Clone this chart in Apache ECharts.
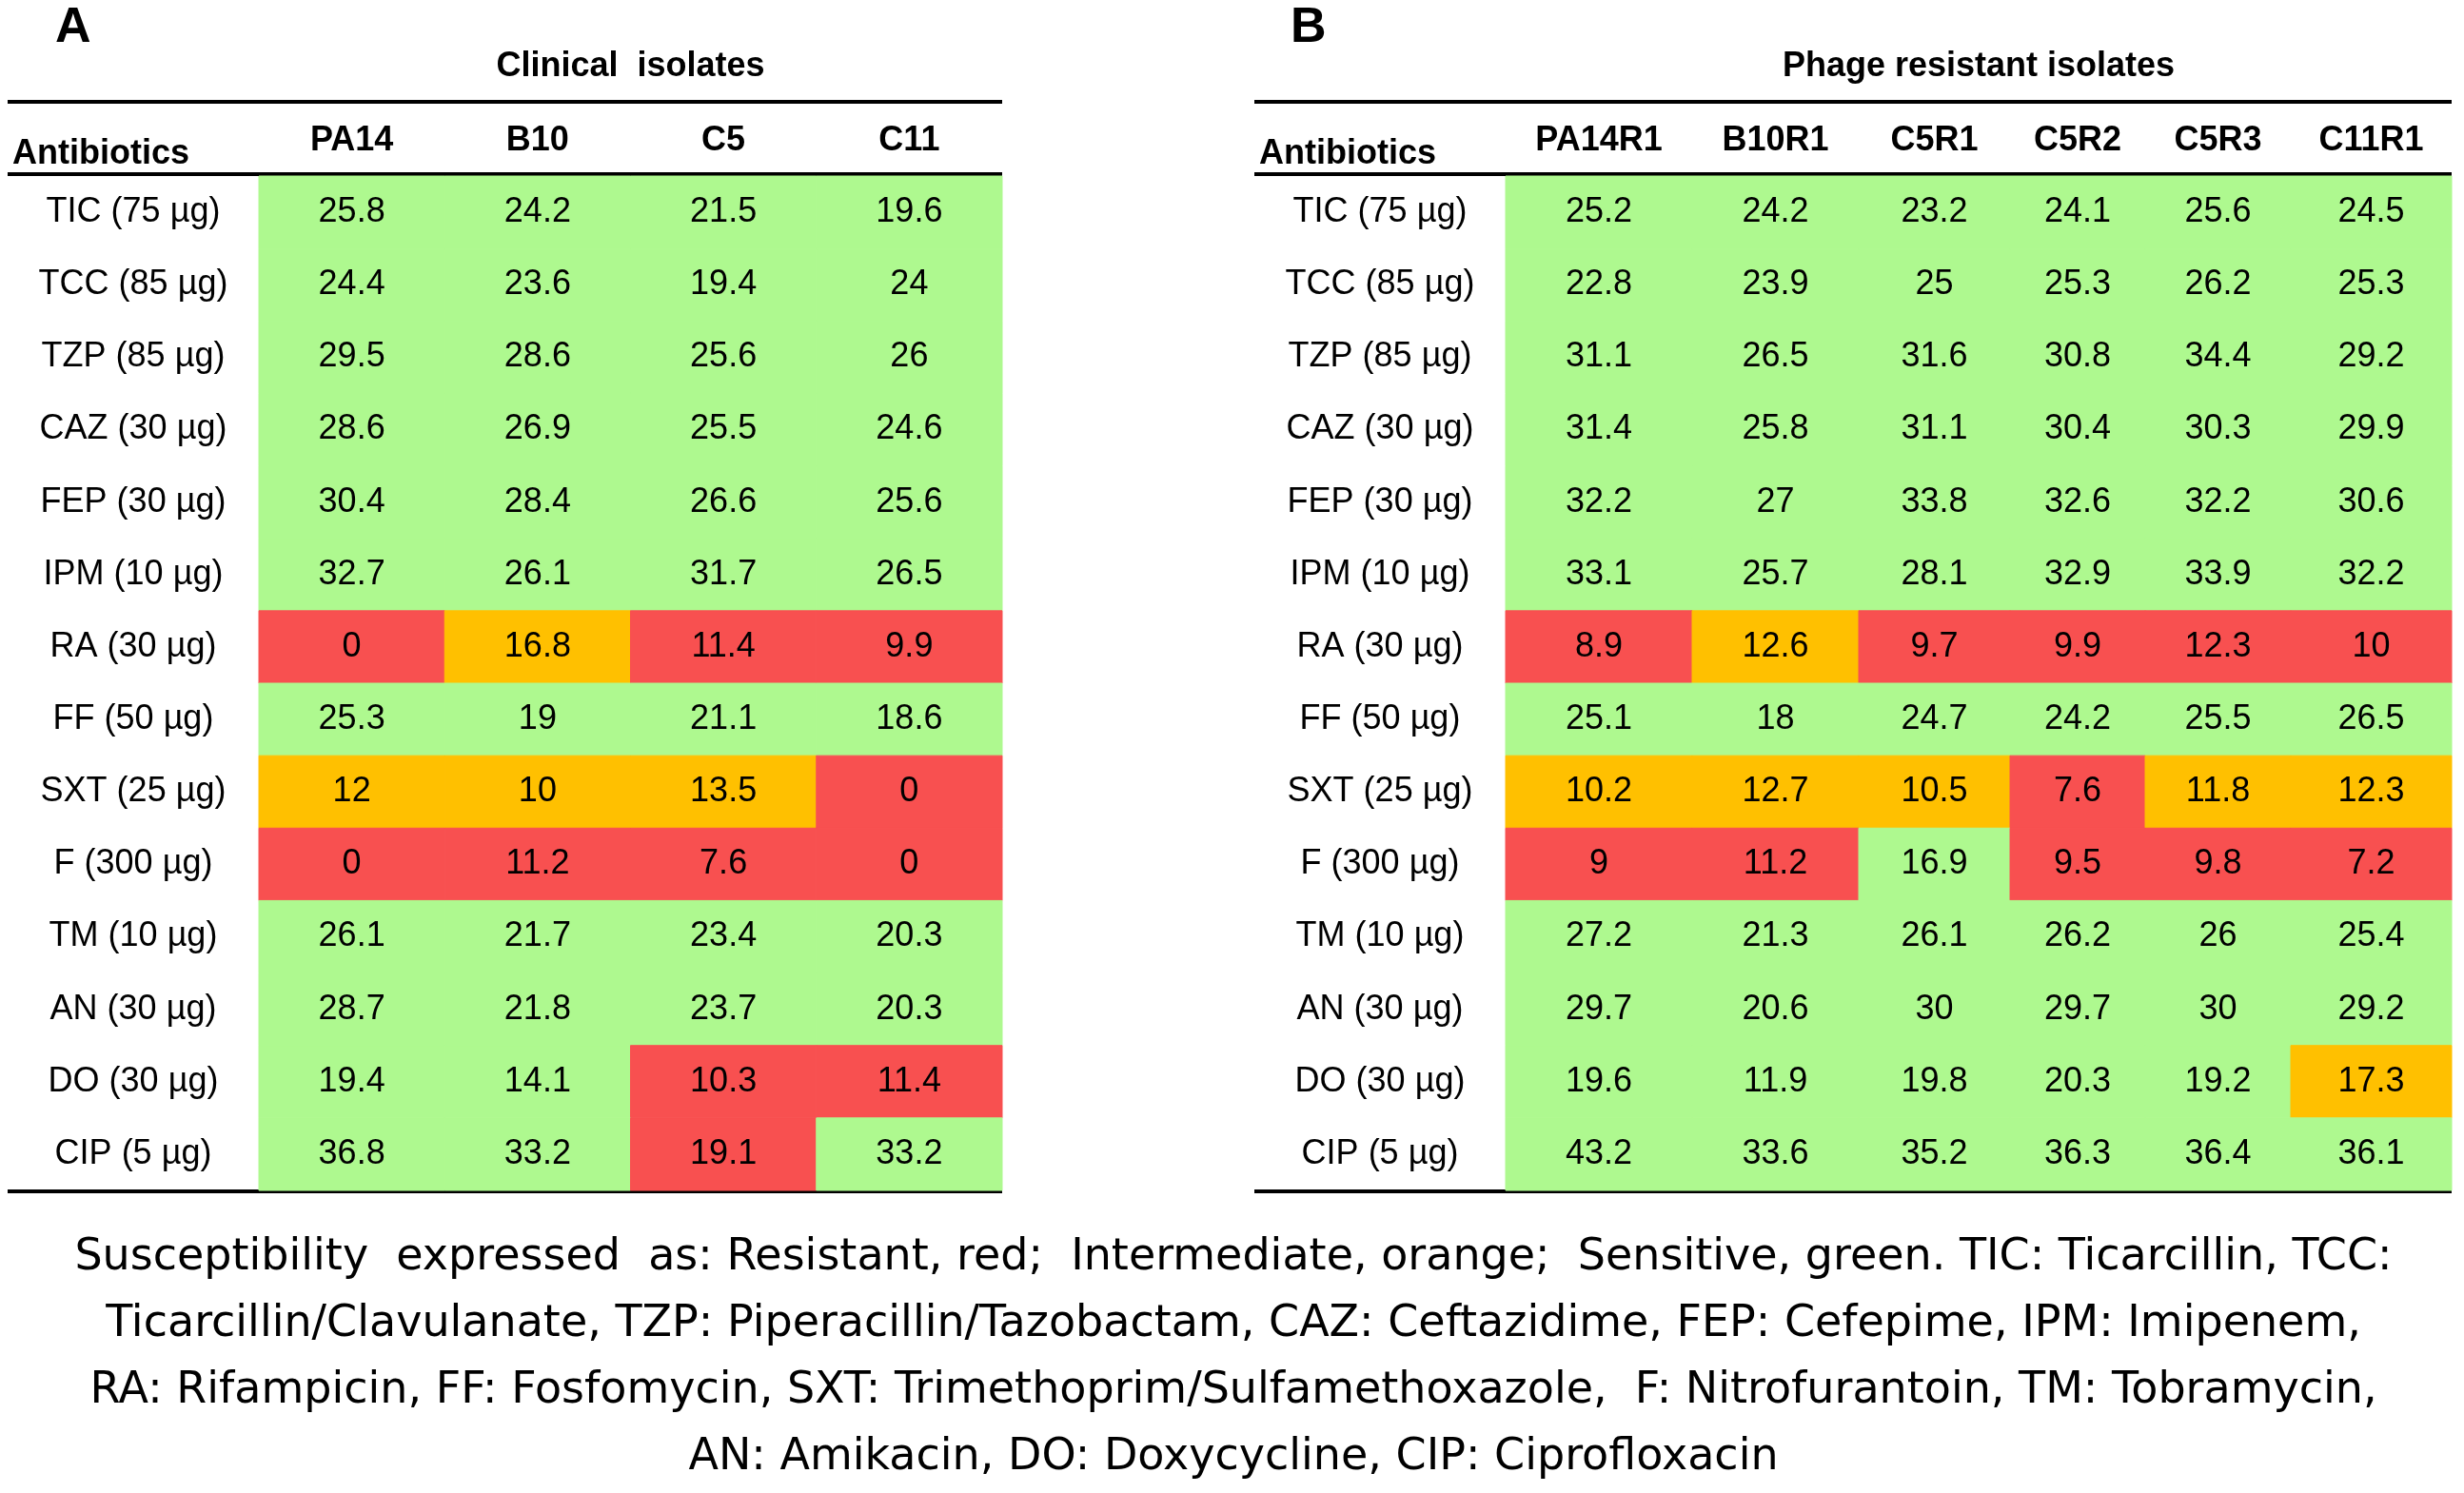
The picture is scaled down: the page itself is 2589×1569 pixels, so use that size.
<!DOCTYPE html>
<html>
<head>
<meta charset="utf-8">
<title>Antibiotic susceptibility</title>
<script src="https://cdn.jsdelivr.net/npm/echarts@6/dist/echarts.min.js"></script>
<style>
  html, body { margin: 0; padding: 0; background: #fff; }
  #main { width: 2589px; height: 1569px; }
</style>
</head>
<body>
<div id="main"></div>
<script>
// 药敏表：A 临床分离株, B 噬菌体抗性分离株
const antibiotics = [
  'TIC (75 µg)', 'TCC (85 µg)', 'TZP (85 µg)', 'CAZ (30 µg)', 'FEP (30 µg)',
  'IPM (10 µg)', 'RA (30 µg)', 'FF (50 µg)', 'SXT (25 µg)', 'F (300 µg)',
  'TM (10 µg)', 'AN (30 µg)', 'DO (30 µg)', 'CIP (5 µg)'
];

const clinicalIsolates = ['PA14', 'B10', 'C5', 'C11'];
const clinicalValues = [
  [25.8, 24.2, 21.5, 19.6],
  [24.4, 23.6, 19.4, 24],
  [29.5, 28.6, 25.6, 26],
  [28.6, 26.9, 25.5, 24.6],
  [30.4, 28.4, 26.6, 25.6],
  [32.7, 26.1, 31.7, 26.5],
  [0, 16.8, 11.4, 9.9],
  [25.3, 19, 21.1, 18.6],
  [12, 10, 13.5, 0],
  [0, 11.2, 7.6, 0],
  [26.1, 21.7, 23.4, 20.3],
  [28.7, 21.8, 23.7, 20.3],
  [19.4, 14.1, 10.3, 11.4],
  [36.8, 33.2, 19.1, 33.2]
];
// S = sensitive, I = intermediate, R = resistant
const clinicalStatus = [
  'SSSS', 'SSSS', 'SSSS', 'SSSS', 'SSSS', 'SSSS', 'RIRR',
  'SSSS', 'IIIR', 'RRRR', 'SSSS', 'SSSS', 'SSRR', 'SSRS'
];

const phageIsolates = ['PA14R1', 'B10R1', 'C5R1', 'C5R2', 'C5R3', 'C11R1'];
const phageValues = [
  [25.2, 24.2, 23.2, 24.1, 25.6, 24.5],
  [22.8, 23.9, 25, 25.3, 26.2, 25.3],
  [31.1, 26.5, 31.6, 30.8, 34.4, 29.2],
  [31.4, 25.8, 31.1, 30.4, 30.3, 29.9],
  [32.2, 27, 33.8, 32.6, 32.2, 30.6],
  [33.1, 25.7, 28.1, 32.9, 33.9, 32.2],
  [8.9, 12.6, 9.7, 9.9, 12.3, 10],
  [25.1, 18, 24.7, 24.2, 25.5, 26.5],
  [10.2, 12.7, 10.5, 7.6, 11.8, 12.3],
  [9, 11.2, 16.9, 9.5, 9.8, 7.2],
  [27.2, 21.3, 26.1, 26.2, 26, 25.4],
  [29.7, 20.6, 30, 29.7, 30, 29.2],
  [19.6, 11.9, 19.8, 20.3, 19.2, 17.3],
  [43.2, 33.6, 35.2, 36.3, 36.4, 36.1]
];
const phageStatus = [
  'SSSSSS', 'SSSSSS', 'SSSSSS', 'SSSSSS', 'SSSSSS', 'SSSSSS', 'RIRRRR',
  'SSSSSS', 'IIIRII', 'RRSRRR', 'SSSSSS', 'SSSSSS', 'SSSSSI', 'SSSSSS'
];

const caption =
  'Susceptibility  expressed  as: Resistant, red;  Intermediate, orange;  Sensitive, green. TIC: Ticarcillin, TCC:\n' +
  'Ticarcillin/Clavulanate, TZP: Piperacillin/Tazobactam, CAZ: Ceftazidime, FEP: Cefepime, IPM: Imipenem,\n' +
  'RA: Rifampicin, FF: Fosfomycin, SXT: Trimethoprim/Sulfamethoxazole,  F: Nitrofurantoin, TM: Tobramycin,\n' +
  'AN: Amikacin, DO: Doxycycline, CIP: Ciprofloxacin';

// 布局
const FONT = '"Liberation Sans", Arial, sans-serif';
const CAPTION_FONT = '"DejaVu Sans", "Liberation Sans", sans-serif';
const COLORS = { S: '#AEF98F', I: '#FFC000', R: '#F85050' };
const TOP_RULE = 107;
const HEAD_RULE = 183;
const BODY_TOP = 185;
const BODY_BOTTOM = 1251;
const FOOT_RULE = 1252;
const LABEL_W = 264;

const layoutA = { left: 8, colW: [195.25, 195.25, 195.25, 195.25] };
const layoutB = { left: 1318, colW: [196, 175, 159, 142, 153, 169] };

function makeTable(idx, layout, names, values, status) {
  const edges = [0];
  layout.colW.forEach(w => edges.push(edges[edges.length - 1] + w));
  const total = edges[edges.length - 1];
  const centers = layout.colW.map((w, i) => edges[i] + w / 2);
  const dataLeft = layout.left + LABEL_W;

  const items = [];
  values.forEach((row, r) => {
    row.forEach((v, c) => {
      items.push({ value: [c, r, v], status: status[r][c] });
    });
  });

  return {
    grid: {
      left: dataLeft,
      top: BODY_TOP,
      width: total,
      height: BODY_BOTTOM - BODY_TOP
    },
    xAxis: {
      gridIndex: idx,
      type: 'value',
      min: 0,
      max: total,
      position: 'top',
      axisLine: { show: false },
      axisTick: { show: false },
      splitLine: { show: false },
      axisLabel: {
        customValues: centers,
        formatter: v => {
          const i = centers.findIndex(c => Math.abs(c - v) < 0.5);
          return i >= 0 ? names[i] : '';
        },
        margin: 37,
        verticalAlign: 'middle',
        fontFamily: FONT,
        fontSize: 36,
        fontWeight: 'bold',
        color: '#000'
      }
    },
    yAxis: {
      gridIndex: idx,
      type: 'category',
      data: antibiotics,
      inverse: true,
      axisLine: { show: false },
      axisTick: { show: false },
      splitLine: { show: false },
      axisLabel: {
        margin: LABEL_W / 2,
        align: 'center',
        fontFamily: FONT,
        fontSize: 36,
        color: '#000'
      }
    },
    series: {
      type: 'custom',
      xAxisIndex: idx,
      yAxisIndex: idx,
      encode: { x: 0, y: 1 },
      data: items.map(d => d.value),
      renderItem: function (params, api) {
        const c = api.value(0);
        const r = api.value(1);
        const p0 = api.coord([edges[c], r]);
        const p1 = api.coord([edges[c + 1], r]);
        const h = api.size([0, 1])[1];
        const color = COLORS[items[params.dataIndex].status];
        return {
          type: 'rect',
          shape: { x: p0[0], y: p0[1] - h / 2, width: p1[0] - p0[0], height: h },
          style: { fill: color, stroke: color, lineWidth: 1 },
          textContent: {
            style: {
              text: String(api.value(2)),
              font: '36px ' + FONT,
              fill: '#000'
            }
          },
          textConfig: { position: 'inside' }
        };
      }
    },
    rules: [TOP_RULE, HEAD_RULE, FOOT_RULE].map(y => ({
      type: 'line',
      shape: { x1: layout.left, y1: y, x2: dataLeft + total, y2: y },
      style: { stroke: '#000', lineWidth: 4 },
      silent: true
    })),
    centerX: dataLeft + total / 2
  };
}

const tA = makeTable(0, layoutA, clinicalIsolates, clinicalValues, clinicalStatus);
const tB = makeTable(1, layoutB, phageIsolates, phageValues, phageStatus);

var myChart = echarts.init(document.getElementById('main'));

const option = {
  backgroundColor: '#fff',
  animation: false,
  title: [
    {
      text: 'A', left: 58, top: 4, padding: 0,
      textStyle: { fontFamily: FONT, fontSize: 52, fontWeight: 'bold', color: '#000' }
    },
    {
      text: 'B', left: 1356, top: 4, padding: 0,
      textStyle: { fontFamily: FONT, fontSize: 52, fontWeight: 'bold', color: '#000' }
    },
    {
      text: 'Clinical  isolates', left: tA.centerX, top: 52, padding: 0, textAlign: 'center',
      textStyle: { fontFamily: FONT, fontSize: 36, fontWeight: 'bold', color: '#000' }
    },
    {
      text: 'Phage resistant isolates', left: tB.centerX, top: 52, padding: 0, textAlign: 'center',
      textStyle: { fontFamily: FONT, fontSize: 36, fontWeight: 'bold', color: '#000' }
    },
    {
      text: 'Antibiotics', left: 13, top: 144, padding: 0,
      textStyle: { fontFamily: FONT, fontSize: 36, fontWeight: 'bold', color: '#000' }
    },
    {
      text: 'Antibiotics', left: 1323, top: 144, padding: 0,
      textStyle: { fontFamily: FONT, fontSize: 36, fontWeight: 'bold', color: '#000' }
    },
    {
      text: caption, left: 1296, top: 1287, padding: 0, textAlign: 'center',
      textStyle: { fontFamily: CAPTION_FONT, fontSize: 46, fontWeight: 'normal', color: '#000', lineHeight: 70 }
    }
  ],
  grid: [tA.grid, tB.grid],
  xAxis: [tA.xAxis, tB.xAxis],
  yAxis: [tA.yAxis, tB.yAxis],
  series: [tA.series, tB.series],
  graphic: { elements: tA.rules.concat(tB.rules) }
};

myChart.setOption(option);
</script>
</body>
</html>
